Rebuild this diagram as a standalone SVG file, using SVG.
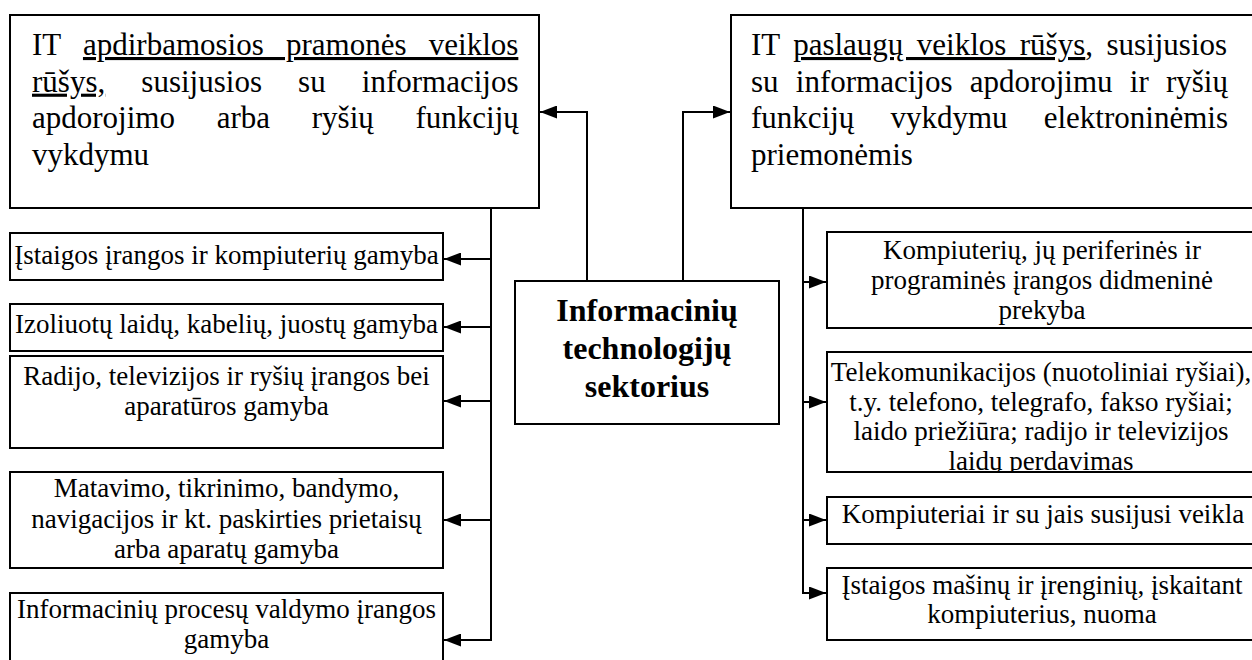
<svg xmlns="http://www.w3.org/2000/svg" width="1252" height="660" viewBox="0 0 1252 660">
<style>
  .box { fill: #fff; stroke: #000; stroke-width: 2; }
  .big { font-family: "Liberation Serif", "Times New Roman", serif; font-size: 31px; fill: #000; }
  .sm { font-family: "Liberation Serif", "Times New Roman", serif; font-size: 27px; fill: #000; text-anchor: middle; }
  .ctr { font-family: "Liberation Serif", "Times New Roman", serif; font-size: 32px; font-weight: bold; fill: #000; text-anchor: middle; }
  .u { text-decoration: underline; }
  .con { fill: none; stroke: #000; stroke-width: 2; marker-end: url(#arr); }
</style>
<defs>
  <marker id="arr" viewBox="0 0 17 13" refX="17" refY="6.5" markerWidth="17" markerHeight="13" markerUnits="userSpaceOnUse" orient="auto">
    <path d="M0,0 L17,6.5 L0,13 z" fill="#000"/>
  </marker>
  <clipPath id="clipR2"><rect x="828" y="353" width="430" height="118"/></clipPath>
</defs>
<rect width="1252" height="660" fill="#fff"/>

<g id="connectors">
  <path class="con" d="M587,281 V112 H540"/>
  <path class="con" d="M683,281 V112 H730"/>
  <path class="con" d="M491,208 V640 H444"/>
  <path class="con" d="M491,259 H444"/>
  <path class="con" d="M491,327 H444"/>
  <path class="con" d="M491,401 H444"/>
  <path class="con" d="M491,520 H444"/>
  <path class="con" d="M803,208 V593 H826"/>
  <path class="con" d="M803,282 H826"/>
  <path class="con" d="M803,402 H826"/>
  <path class="con" d="M803,520 H826"/>
</g>

<g id="left-main">
  <rect class="box" x="10" y="15" width="529" height="193"/>
  <text class="big" x="32" y="55" word-spacing="14.5">IT <tspan class="u">apdirbamosios pramonės veiklos</tspan></text>
  <text class="big" x="32" y="91.7" word-spacing="28.4"><tspan class="u">rūšys,</tspan> susijusios su informacijos</text>
  <text class="big" x="32" y="128.4" word-spacing="34">apdorojimo arba ryšių funkcijų</text>
  <text class="big" x="32" y="165">vykdymu</text>
</g>

<g id="right-main">
  <rect class="box" x="731" y="15" width="530" height="193"/>
  <text class="big" x="751" y="55" word-spacing="5.7">IT <tspan class="u">paslaugų veiklos rūšys</tspan>, susijusios</text>
  <text class="big" x="751" y="91.7" word-spacing="9.45">su informacijos apdorojimu ir ryšių</text>
  <text class="big" x="751" y="128.4" word-spacing="28.4">funkcijų vykdymu elektroninėmis</text>
  <text class="big" x="751" y="165">priemonėmis</text>
</g>

<g id="center">
  <rect class="box" x="515" y="281" width="264" height="143"/>
  <text class="ctr" x="647" y="321">Informacinių</text>
  <text class="ctr" x="647" y="359">technologijų</text>
  <text class="ctr" x="647" y="397">sektorius</text>
</g>

<g id="left-1">
  <rect class="box" x="10" y="233" width="433" height="47"/>
  <text class="sm" x="226.5" y="264">Įstaigos įrangos ir kompiuterių gamyba</text>
</g>
<g id="left-2">
  <rect class="box" x="10" y="304" width="433" height="47"/>
  <text class="sm" x="226.5" y="333">Izoliuotų laidų, kabelių, juostų gamyba</text>
</g>
<g id="left-3">
  <rect class="box" x="10" y="356" width="433" height="92"/>
  <text class="sm" x="226.5" y="385">Radijo, televizijos ir ryšių įrangos bei</text>
  <text class="sm" x="226.5" y="415">aparatūros gamyba</text>
</g>
<g id="left-4">
  <rect class="box" x="10" y="472" width="433" height="96"/>
  <text class="sm" x="226.5" y="497">Matavimo, tikrinimo, bandymo,</text>
  <text class="sm" x="226.5" y="527.5">navigacijos ir kt. paskirties prietaisų</text>
  <text class="sm" x="226.5" y="558">arba aparatų gamyba</text>
</g>
<g id="left-5">
  <rect class="box" x="10" y="593" width="433" height="80"/>
  <text class="sm" x="226.5" y="618">Informacinių procesų valdymo įrangos</text>
  <text class="sm" x="226.5" y="648">gamyba</text>
</g>

<g id="right-1">
  <rect class="box" x="827" y="232" width="432" height="96"/>
  <text class="sm" x="1042" y="259">Kompiuterių, jų periferinės ir</text>
  <text class="sm" x="1042" y="289">programinės įrangos didmeninė</text>
  <text class="sm" x="1042" y="319">prekyba</text>
</g>
<g id="right-2">
  <rect class="box" x="827" y="352" width="432" height="120"/>
  <g clip-path="url(#clipR2)">
    <text class="sm" x="1041" y="381">Telekomunikacijos (nuotoliniai ryšiai),</text>
    <text class="sm" x="1041" y="410.5">t.y. telefono, telegrafo, fakso ryšiai;</text>
    <text class="sm" x="1041" y="440">laido priežiūra; radijo ir televizijos</text>
    <text class="sm" x="1041" y="469.5">laidų perdavimas</text>
  </g>
</g>
<g id="right-3">
  <rect class="box" x="827" y="497" width="432" height="47"/>
  <text class="sm" x="1043" y="523">Kompiuteriai ir su jais susijusi veikla</text>
</g>
<g id="right-4">
  <rect class="box" x="827" y="568" width="432" height="72"/>
  <text class="sm" x="1042" y="594">Įstaigos mašinų ir įrenginių, įskaitant</text>
  <text class="sm" x="1042" y="623">kompiuterius, nuoma</text>
</g>
</svg>
